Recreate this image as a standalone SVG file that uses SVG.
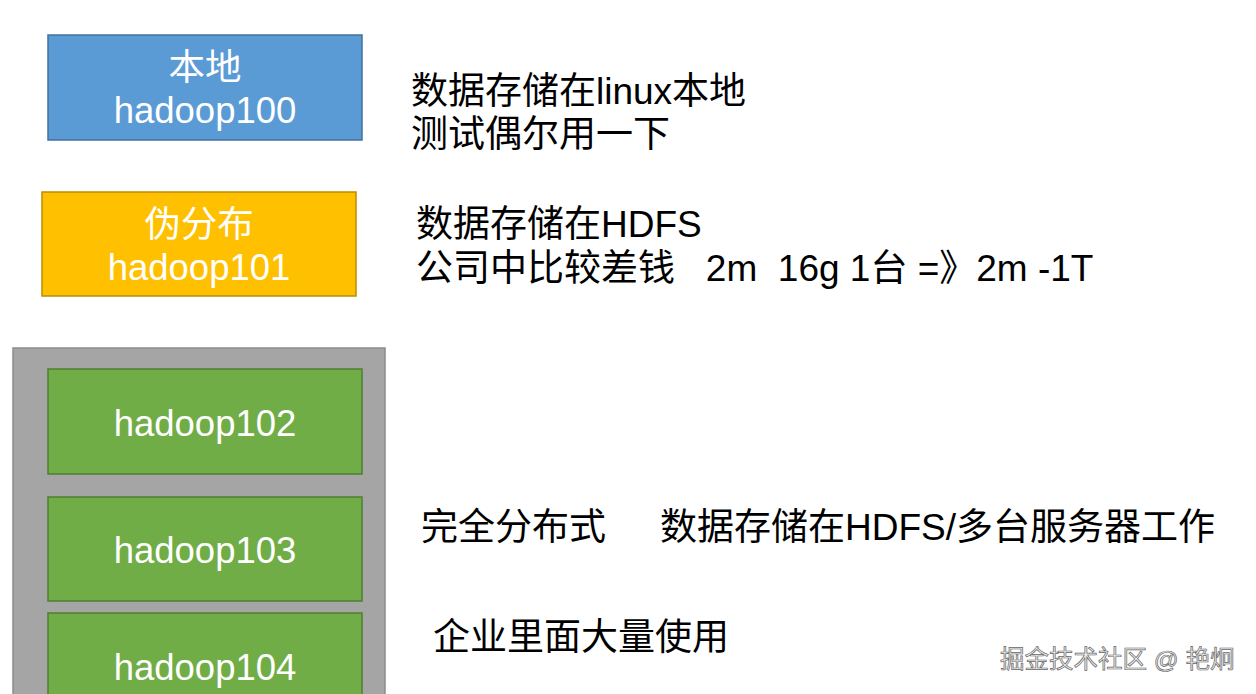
<svg xmlns="http://www.w3.org/2000/svg" width="1256" height="694" viewBox="0 0 1256 694">
<style>
.box{stroke-width:1.5}
.lbl{font-family:"Liberation Sans","Noto Sans CJK SC",sans-serif;font-size:36.5px;fill:#fff;text-anchor:middle}
.txt{font-family:"Liberation Sans","Noto Sans CJK SC",sans-serif;font-size:37px;fill:#000}
.wm{font-family:"Liberation Sans","Noto Sans CJK SC",sans-serif;font-size:24.5px;fill:#eee;stroke:#666;stroke-width:0.7}
</style>
<rect width="1256" height="694" fill="#fff"/>
<g id="local">
<rect class="box" x="48" y="35" width="314" height="105" fill="#5B9BD5" stroke="#41719C"/>
<text class="lbl" x="205" y="80">本地</text>
<text class="lbl" x="205" y="123">hadoop100</text>
</g>
<g id="pseudo">
<rect class="box" x="42" y="192" width="314" height="104" fill="#FFC000" stroke="#BC8C00"/>
<text class="lbl" x="199" y="237">伪分布</text>
<text class="lbl" x="199" y="280">hadoop101</text>
</g>
<g id="cluster">
<rect class="box" x="13" y="348" width="372" height="360" fill="#A5A5A5" stroke="#8C8C8C"/>
</g>
<g id="h102">
<rect class="box" x="48" y="369" width="314" height="105" fill="#70AD47" stroke="#507E32"/>
<text class="lbl" x="205" y="436">hadoop102</text>
</g>
<g id="h103">
<rect class="box" x="48" y="497" width="314" height="104" fill="#70AD47" stroke="#507E32"/>
<text class="lbl" x="205" y="563">hadoop103</text>
</g>
<g id="h104">
<rect class="box" x="48" y="613" width="314" height="100" fill="#70AD47" stroke="#507E32"/>
<text class="lbl" x="205" y="680">hadoop104</text>
</g>
<g id="connectors"></g>
<g id="notes">
<text class="txt" x="411" y="104">数据存储在linux本地</text>
<text class="txt" x="411" y="147">测试偶尔用一下</text>
<text class="txt" x="416" y="237">数据存储在HDFS</text>
<text class="txt" x="416" y="281" xml:space="preserve">公司中比较差钱   2m  16g 1台 =》2m -1T</text>
<text class="txt" x="421" y="540">完全分布式</text>
<text class="txt" x="660" y="540">数据存储在HDFS/多台服务器工作</text>
<text class="txt" x="433" y="650">企业里面大量使用</text>
<text class="wm" x="1000" y="668">掘金技术社区 @ 艳炯</text>
</g>
</svg>
